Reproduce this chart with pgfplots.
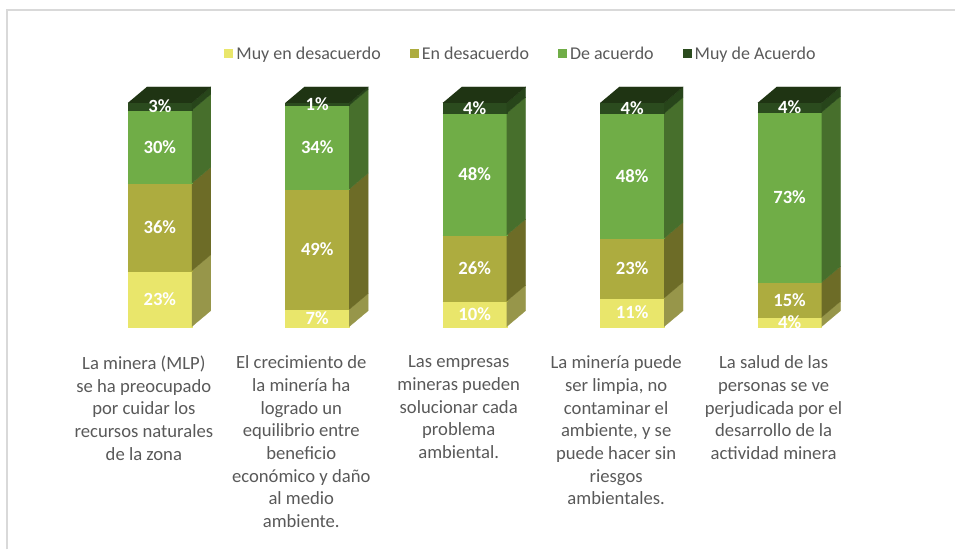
\documentclass[border=0pt]{standalone}
\usepackage{pgfplots}
\pgfplotsset{compat=1.18}
\usepackage{pgfplotstable}
\usepackage{fontspec}
\setmainfont{Carlito}
\definecolor{yelF}{HTML}{E9E66B}
\definecolor{yelS}{HTML}{97964A}
\definecolor{olF}{HTML}{ADAC3F}
\definecolor{olS}{HTML}{6D6C27}
\definecolor{grF}{HTML}{70AD47}
\definecolor{grS}{HTML}{476F2C}
\definecolor{dkF}{HTML}{2B4B1E}
\definecolor{dkS}{HTML}{27451A}
\definecolor{dkT}{HTML}{1F3413}
\definecolor{txtgray}{HTML}{595959}
\definecolor{framegray}{HTML}{D9D9D9}

% h = segment heights (share of the bar); l = printed labels
\pgfplotstableread{
x  h1   h2   h3   h4   l1 l2 l3 l4
0  25.0 39.1 32.6 3.3  23 36 30 3
1  7.7  53.8 37.4 1.1  7  49 34 1
2  11.4 29.5 54.5 4.6  10 26 48 4
3  12.8 26.7 55.8 4.7  11 23 48 4
4  4.2  15.6 76.0 4.2  4  15 73 4
}\data

\def\hw{0.203}
\def\ddx{0.1206}
\def\ddy{7.14}

\newcommand\seg[5]{%
  \pgfmathsetmacro\xl{#1-\hw}%
  \pgfmathsetmacro\xr{#1+\hw}%
  \pgfmathsetmacro\xs{#1+\hw+\ddx}%
  \pgfmathsetmacro\ybd{#2+\ddy}%
  \pgfmathsetmacro\ytd{#3+\ddy}%
  \edef\tmp{%
    \noexpand\addplot[forget plot, draw=#4, line width=0.2bp, fill=#4] coordinates {(\xl,#2) (\xr,#2) (\xr,#3) (\xl,#3)};
    \noexpand\addplot[forget plot, draw=#5, line width=0.2bp, fill=#5] coordinates {(\xr,#2) (\xs,\ybd) (\xs,\ytd) (\xr,#3)};
  }\tmp
}
\newcommand\topface[3]{%
  \pgfmathsetmacro\xl{#1-\hw}%
  \pgfmathsetmacro\xr{#1+\hw}%
  \pgfmathsetmacro\xsl{#1-\hw+\ddx}%
  \pgfmathsetmacro\xs{#1+\hw+\ddx}%
  \pgfmathsetmacro\ytd{#2+\ddy}%
  \edef\tmp{%
    \noexpand\addplot[forget plot, draw=#3, line width=0.2bp, fill=#3] coordinates {(\xl,#2) (\xr,#2) (\xs,\ytd) (\xsl,\ytd)};
  }\tmp
}

\begin{document}
\begin{tikzpicture}
\begin{axis}[
  scale only axis,
  width=956bp, height=550bp,
  xmin=-1.0152, xmax=5.0508,
  ymin=-99.55, ymax=145.98,
  clip=false,
  axis line style={draw=none},
  tick style={draw=none},
  major tick length=0pt,
  ytick=\empty,
  xtick={0,1,2,3,4},
  xticklabels={
    {La minera (MLP)\\se ha preocupado\\por cuidar los\\recursos naturales\\de la zona},
    {El crecimiento de\\la minería ha\\logrado un\\equilibrio entre\\beneficio\\económico y daño\\al medio\\ambiente.},
    {Las empresas\\mineras pueden\\solucionar cada\\problema\\ambiental.},
    {La minería puede\\ser limpia, no\\contaminar el\\ambiente, y se\\puede hacer sin\\riesgos\\ambientales.},
    {La salud de las\\personas se ve\\perjudicada por el\\desarrollo de la\\actividad minera}
  },
  xticklabel style={font=\fontsize{18.67bp}{22.7bp}\selectfont, text=txtgray, align=center,
    anchor=north, inner sep=0pt, yshift=194bp, xshift=-16bp},
  legend columns=4,
  legend style={at={(rel axis cs:0.546,0.902)}, anchor=center, draw=none, fill=none,
    font=\fontsize{18bp}{22bp}\selectfont, text=txtgray,
    nodes={inner xsep=3bp, inner ysep=0bp},
    /tikz/every odd column/.append style={column sep=0bp},
    /tikz/every even column/.append style={column sep=26bp}},
  legend image code/.code={\fill[#1] (0bp,-4.5bp) rectangle (9bp,4.5bp);},
  after end axis/.code={
    \path (rel axis cs:0,0) rectangle (rel axis cs:1,1);
    \draw[color=framegray, line width=2bp] (rel axis cs:0.00785,0) -- (rel axis cs:0.00785,0.981) -- (rel axis cs:1,0.981);
  },
]
\addlegendimage{fill=yelF, draw=none}
\addlegendentry{Muy en desacuerdo}
\addlegendimage{fill=olF, draw=none}
\addlegendentry{En desacuerdo}
\addlegendimage{fill=grF, draw=none}
\addlegendentry{De acuerdo}
\addlegendimage{fill=dkF, draw=none}
\addlegendentry{Muy de Acuerdo}

\pgfplotsinvokeforeach{0,1,2,3,4}{
  \pgfplotstablegetelem{#1}{h1}\of\data \let\hA\pgfplotsretval
  \pgfplotstablegetelem{#1}{h2}\of\data \let\hB\pgfplotsretval
  \pgfplotstablegetelem{#1}{h3}\of\data \let\hC\pgfplotsretval
  \pgfplotstablegetelem{#1}{h4}\of\data \let\hD\pgfplotsretval
  \pgfmathsetmacro\cA{\hA}
  \pgfmathsetmacro\cB{\hA+\hB}
  \pgfmathsetmacro\cC{\hA+\hB+\hC}
  \pgfmathsetmacro\cD{\hA+\hB+\hC+\hD}
  \seg{#1}{0}{\cA}{yelF}{yelS}
  \seg{#1}{\cA}{\cB}{olF}{olS}
  \seg{#1}{\cB}{\cC}{grF}{grS}
  \seg{#1}{\cC}{\cD}{dkF}{dkS}
  \topface{#1}{\cD}{dkT}
}

\pgfplotsset{lbl/.style={forget plot, draw=none, mark=none,
  point meta=explicit symbolic,
  nodes near coords={\pgfplotspointmeta\%},
  nodes near coords align=center,
  every node near coord/.append style={anchor=center, text=white, inner sep=0pt,
     font=\fontsize{18.67bp}{22.7bp}\selectfont\bfseries}}}
\addplot[lbl] table[x=x, y expr={\thisrow{h1}/2}, meta=l1] {\data};
\addplot[lbl] table[x=x, y expr={\thisrow{h1}+\thisrow{h2}/2}, meta=l2] {\data};
\addplot[lbl] table[x=x, y expr={\thisrow{h1}+\thisrow{h2}+\thisrow{h3}/2}, meta=l3] {\data};
\addplot[lbl] table[x=x, y expr={\thisrow{h1}+\thisrow{h2}+\thisrow{h3}+\thisrow{h4}/2}, meta=l4] {\data};
\end{axis}
\end{tikzpicture}
\end{document}
